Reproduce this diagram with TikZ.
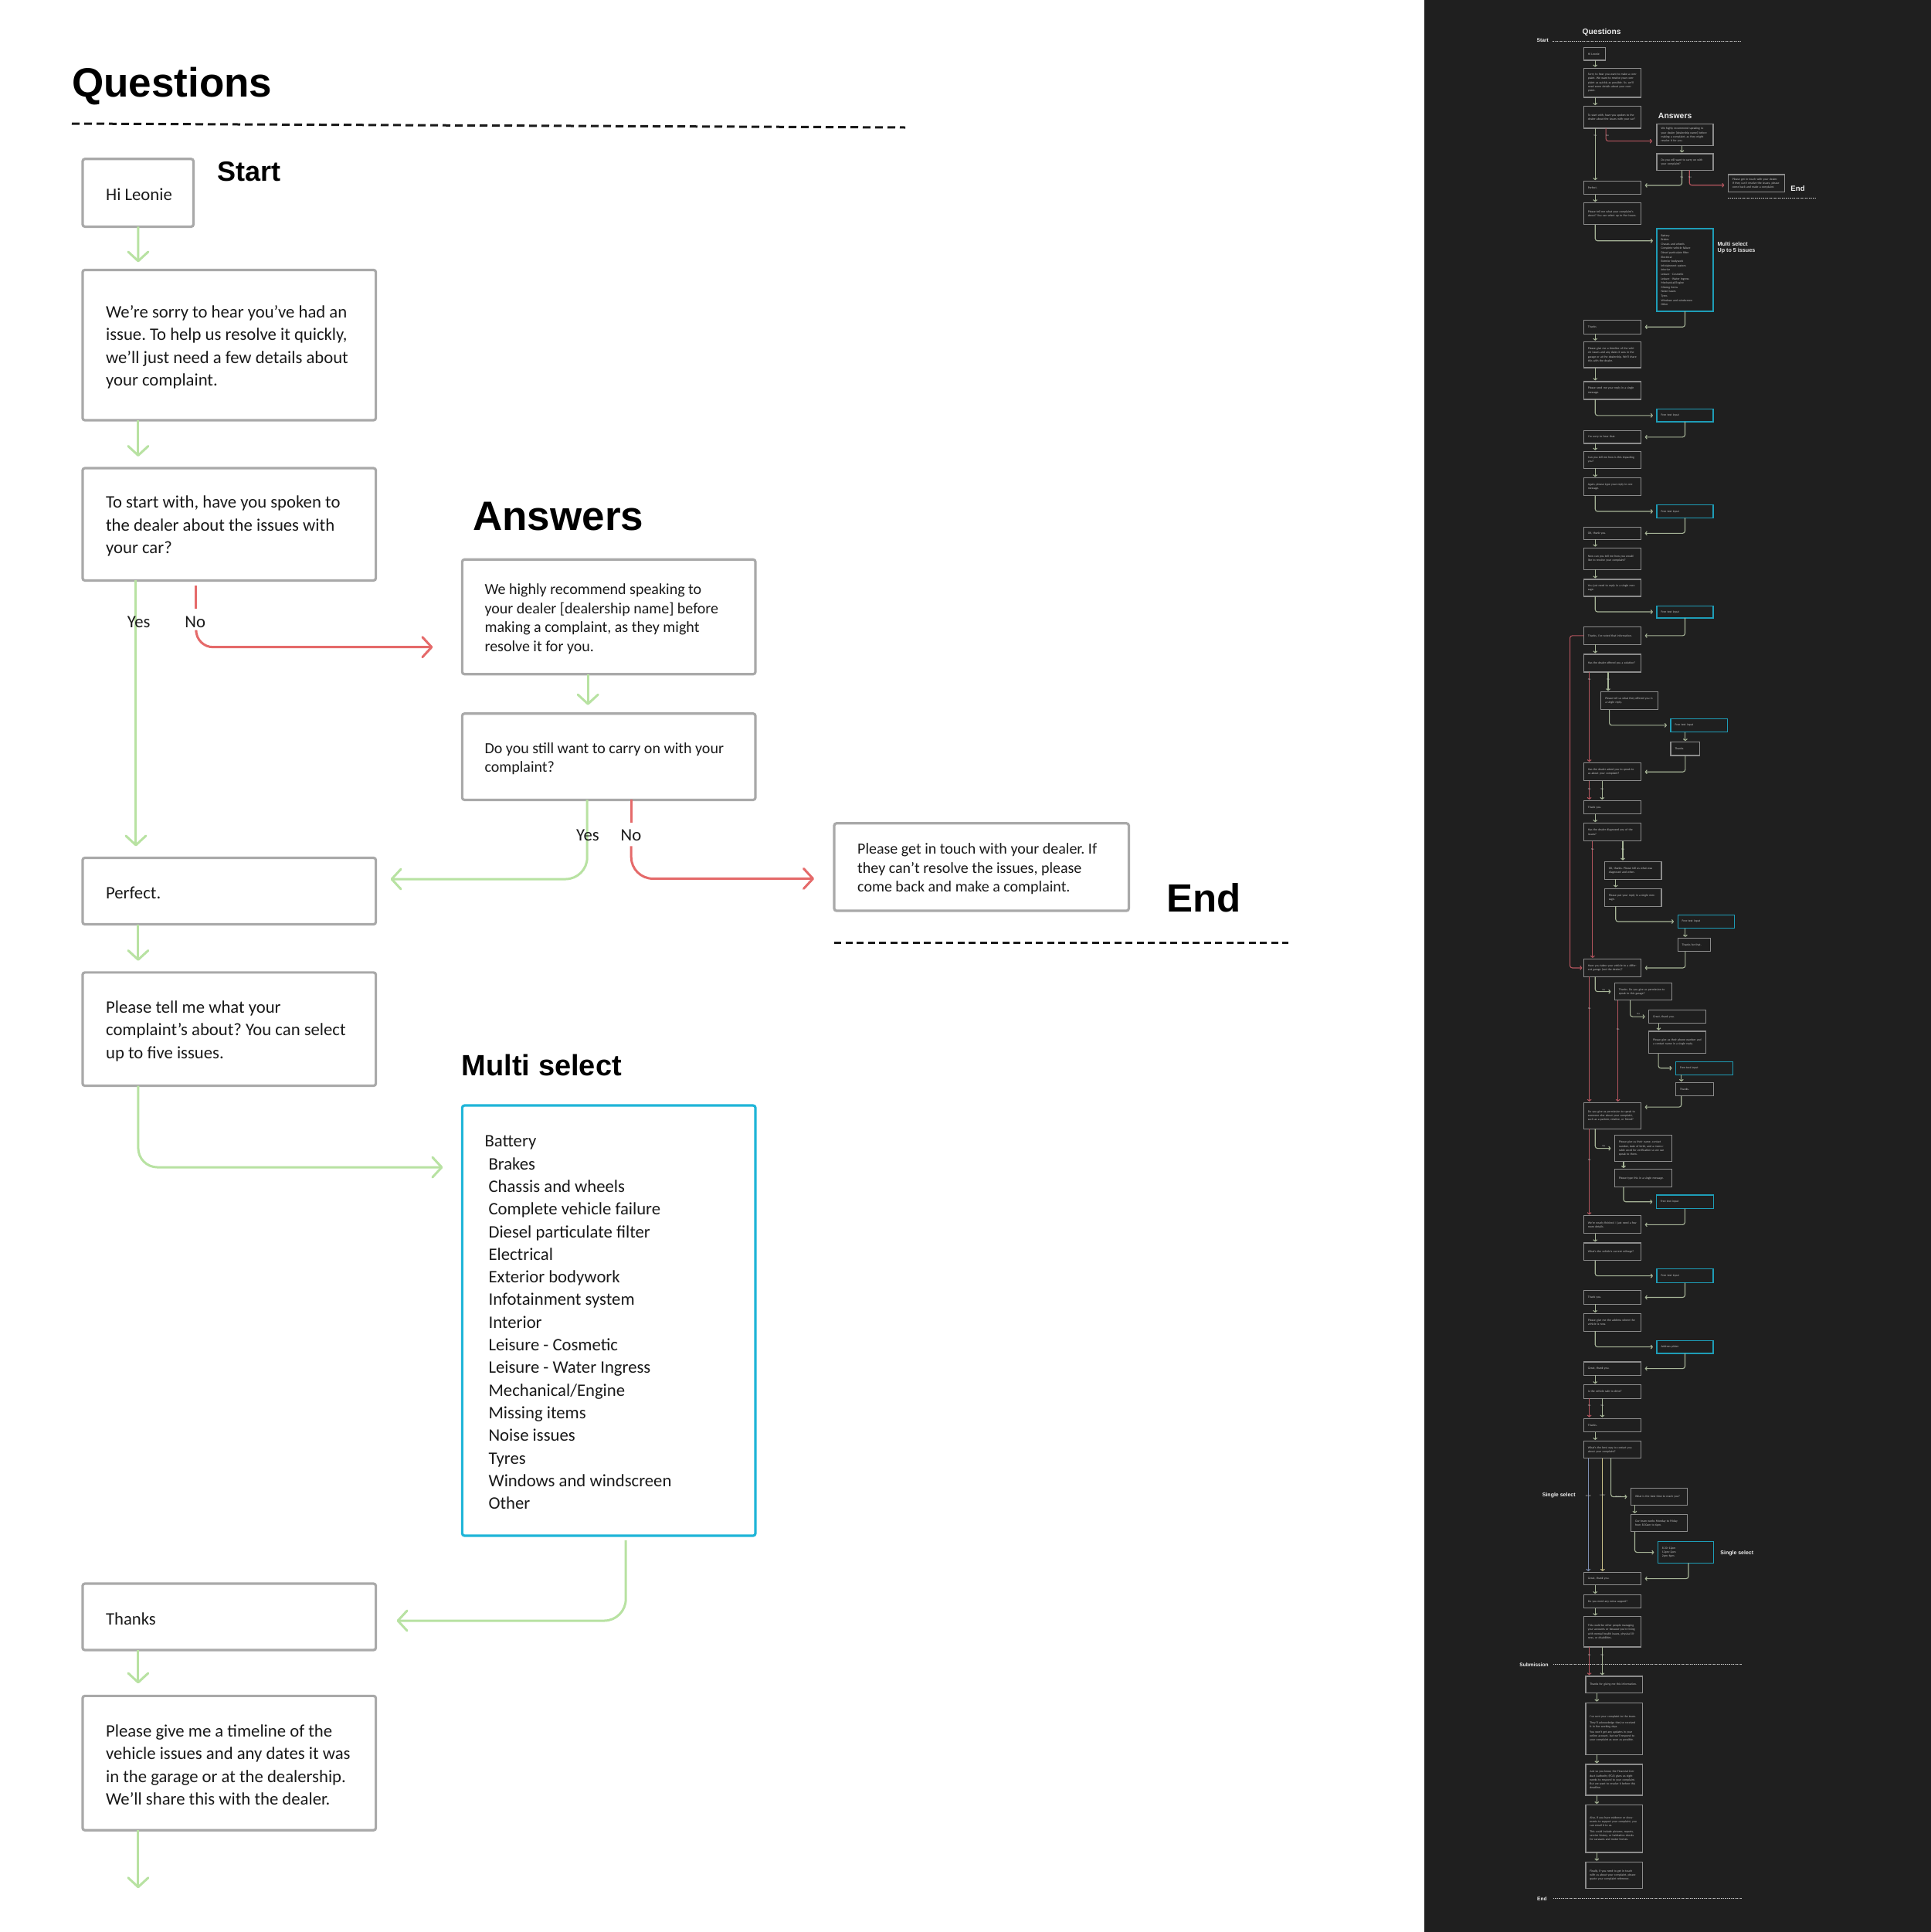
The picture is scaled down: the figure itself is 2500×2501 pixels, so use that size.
\documentclass[tikz,border=0pt]{standalone}
\usepackage{fontspec}
\setmainfont{Carlito}
\newfontfamily\headfont{Liberation Sans}
\usetikzlibrary{arrows.meta,calc,fit}
\frenchspacing
\definecolor{gbox}{HTML}{A9A9A9}
\definecolor{ggreen}{HTML}{B8E2A2}
\definecolor{gred}{HTML}{E56A6A}
\definecolor{gcyan}{HTML}{1FB5D8}
\definecolor{ink}{HTML}{1A1A1A}
\definecolor{panel}{HTML}{1F1F1F}
\definecolor{mmgray}{HTML}{8C8C8C}
\definecolor{mmcyan}{HTML}{1E9DB7}
\definecolor{mmgreen}{HTML}{A7B598}
\definecolor{mmred}{HTML}{B4555E}
\definecolor{mmblue}{HTML}{7D8FB3}
\definecolor{mmtan}{HTML}{C9C08A}
\definecolor{mmwhite}{HTML}{EDEDED}
\definecolor{mmtext}{HTML}{C4C4C4}
\newcommand\mmbx[7]{%
  \node[#6, fit={(#2,#3) (#4,#5)}] (#1) {};%
  \pgfmathsetmacro\mmw{(#4-#2)*1.5954-11}%
  \node[mmtxt, text width=\mmw pt] at (#1.center) {#7};%
}
\tikzset{
  qbox/.style={draw=gbox, line width=3.2pt, rounded corners=3pt, fill=white, inner sep=0pt, outer sep=0pt},
  cbox/.style={qbox, draw=gcyan},
  qtxt/.style={inner sep=0pt, anchor=west, align=left, text=ink, yshift=-2.5pt, font=\fontsize{22.7}{29.3}\selectfont},
  atxt/.style={qtxt, font=\fontsize{20}{24.5}\selectfont},
  lab/.style={inner sep=0pt, text=ink, font=\fontsize{22.7}{27}\selectfont},
  head/.style={inner sep=0pt, anchor=base west, text=black},
  garr/.style={draw=ggreen, line width=3pt, rounded corners=28pt, -{Straight Barb[length=12pt,width=26pt,round]}},
  rarr/.style={garr, draw=gred},
  rline/.style={draw=gred, line width=3pt},
  dline/.style={draw=ink, line width=3pt, dash pattern=on 10pt off 6pt},
  mmb/.style={draw=mmgray, line width=1.2pt, inner sep=0pt, outer sep=0pt},
  mmc/.style={mmb, draw=mmcyan},
  mmtxt/.style={inner sep=0pt, align=left, text=mmtext, font=\fontsize{3.8}{5.2}\selectfont},
  mma/.style={draw=mmgreen, line width=1.1pt, rounded corners=3pt, -{Straight Barb[length=2pt,width=5pt]}, shorten >=1.5pt},
  mme/.style={mma, shorten >=5pt},
  mmr/.style={mma, draw=mmred},
  mmre/.style={mme, draw=mmred},
  mmlab/.style={inner sep=0pt, text=mmtext, font=\fontsize{3}{3.5}\selectfont},
  mmhead/.style={inner sep=0pt, anchor=west, text=mmwhite, font=\headfont\bfseries\fontsize{7}{8.6}\selectfont, align=left},
  mmdash/.style={draw=mmtext, line width=0.8pt, dash pattern=on 1.5pt off 1pt},
}
\begin{document}
\begin{tikzpicture}[x=1pt,y=-1pt]
\useasboundingbox (0,0) rectangle (2500,2501);
\fill[white] (0,0) rectangle (1844,2501);
\fill[panel] (1844,0) rectangle (2500,2501);

% ---------- headings ----------
\node[head, font=\headfont\bfseries\fontsize{53}{60}\selectfont] (hq) at (93,125) {Questions};
\draw[dline] (93,160) -- (1172,165);
\node[head, font=\headfont\bfseries\fontsize{36}{40}\selectfont] (hs) at (281,234.7) {Start};
\node[head, font=\headfont\bfseries\fontsize{53}{60}\selectfont] (ha) at (612,686) {Answers};
\node[head, font=\headfont\bfseries\fontsize{51}{58}\selectfont] (he) at (1510,1180) {End};
\draw[dline, dash pattern=on 9pt off 5.5pt] (1080,1220) -- (1668,1220);
\node[head, font=\headfont\bfseries\fontsize{38}{44}\selectfont] (hm) at (597.7,1392) {Multi select};

% ---------- boxes ----------
\node[qbox, minimum width=143.5pt, minimum height=87.7pt] (hi) at (178.7,249.6) {};
\node[qtxt] at ($(hi.west)+(30,0)$) {Hi Leonie};

\node[qbox, minimum width=379.7pt, minimum height=194.6pt] (q2) at (296.75,446.7) {};
\node[qtxt] at ($(q2.west)+(30,0)$) {We’re sorry to hear you’ve had an\\issue. To help us resolve it quickly,\\we’ll just need a few details about\\your complaint.};

\node[qbox, minimum width=379.7pt, minimum height=145.4pt] (q3) at (296.75,678.7) {};
\node[qtxt] at ($(q3.west)+(30,0)$) {To start with, have you spoken to\\the dealer about the issues with\\your car?};

\node[qbox, minimum width=379.7pt, minimum height=86.1pt] (perf) at (296.75,1153.5) {};
\node[qtxt] at ($(perf.west)+(30,0)$) {Perfect.};

\node[qbox, minimum width=379.7pt, minimum height=146.7pt] (q5) at (296.75,1332.2) {};
\node[qtxt] at ($(q5.west)+(30,0)$) {Please tell me what your\\complaint’s about? You can select\\up to five issues.};

\node[qbox, minimum width=379.7pt, minimum height=86pt] (thx) at (296.75,2093) {};
\node[qtxt] at ($(thx.west)+(30,0)$) {Thanks};

\node[qbox, minimum width=379.7pt, minimum height=173.9pt] (tl) at (296.75,2282.3) {};
\node[qtxt] at ($(tl.west)+(30,0)$) {Please give me a timeline of the\\vehicle issues and any dates it was\\in the garage or at the dealership.\\We’ll share this with the dealer.};

\node[qbox, minimum width=379.7pt, minimum height=148.4pt] (a1) at (788.2,798.5) {};
\node[atxt] at ($(a1.west)+(29,0)$) {We highly recommend speaking to\\your dealer [dealership name] before\\making a complaint, as they might\\resolve it for you.};

\node[qbox, minimum width=379.7pt, minimum height=111.7pt] (a2) at (788.2,979.6) {};
\node[atxt] at ($(a2.west)+(29,0)$) {Do you still want to carry on with your\\complaint?};

\node[qbox, minimum width=381.4pt, minimum height=113.3pt] (endb) at (1270.7,1122.4) {};
\node[atxt] at ($(endb.west)+(30,0)$) {Please get in touch with your dealer. If\\they can’t resolve the issues, please\\come back and make a complaint.};

\node[cbox, minimum width=379.7pt, minimum height=556.9pt] (multi) at (788.2,1709.5) {};
\node[qtxt] at ($(multi.west)+(29,0)$) {Battery\\
\hspace*{5pt}Brakes\\
\hspace*{5pt}Chassis and wheels\\
\hspace*{5pt}Complete vehicle failure\\
\hspace*{5pt}Diesel particulate filter\\
\hspace*{5pt}Electrical\\
\hspace*{5pt}Exterior bodywork\\
\hspace*{5pt}Infotainment system\\
\hspace*{5pt}Interior\\
\hspace*{5pt}Leisure - Cosmetic\\
\hspace*{5pt}Leisure - Water Ingress\\
\hspace*{5pt}Mechanical/Engine\\
\hspace*{5pt}Missing items\\
\hspace*{5pt}Noise issues\\
\hspace*{5pt}Tyres\\
\hspace*{5pt}Windows and windscreen\\
\hspace*{5pt}Other};

% ---------- connectors ----------
\draw[garr, shorten >=10pt] ($(hi.south west)+(72,0)$) -- ($(q2.north west)+(72,0)$);
\draw[garr, shorten >=15pt] ($(q2.south west)+(72,0)$) -- ($(q3.north west)+(72,0)$);
\draw[garr, shorten >=15pt] ($(q3.south west)+(69,0)$) -- ($(perf.north west)+(69,0)$);
\node[lab] (y1) at (179.7,805) {Yes};
\draw[rline] ($(q3.south west)+(147,7)$) -- ++(0,30);
\node[lab] (n1) at (252.8,805) {No};
\draw[rarr, rounded corners=22pt] ($(q3.south west)+(147,67)$) |- ($(a1.south west)+(-38,-35)$);

\draw[garr, shorten >=11pt] ($(a1.south)+(-27,0)$) -- ($(a2.north)+(-27,0)$);
\draw[garr] ($(a2.south)+(-28,0)$) |- ($(perf.east)+(19,-15.5)$);
\node[lab] (y2) at (761,1081.7) {Yes};
\draw[rline] ($(a2.south)+(29,0)$) -- ++(0,30);
\node[lab] (n2) at (817,1081.7) {No};
\draw[rarr] ($(a2.south)+(29,60)$) |- ($(endb.west)+(-26,15)$);

\draw[garr, shorten >=15pt] ($(perf.south west)+(72,0)$) -- ($(q5.north west)+(72,0)$);
\draw[garr, rounded corners=25pt] ($(q5.south west)+(72,0)$) |- ($(multi.north west)+(-25,80)$);
\draw[garr] ($(multi.south)+(22,6)$) |- ($(thx.east)+(27,5)$);
\draw[garr, shorten >=16pt] ($(thx.south west)+(72,0)$) -- ($(tl.north west)+(72,0)$);
\coordinate (tlend) at ($(tl.south west)+(72,75)$);
\draw[garr] ($(tl.south west)+(72,0)$) -- (tlend);

% ---------- minimap ----------
\begin{scope}[x=1.5954pt, y=-1.5954pt]
\node[mmhead, font=\headfont\bfseries\fontsize{10.2}{12}\selectfont] (mq) at (1284,26.5) {Questions};
\node[mmhead, font=\headfont\bfseries\fontsize{6.7}{8}\selectfont] (ms) at (1247,32.4) {Start};
\draw[mmdash] (1260,33.4) -- (1413.4,33.4);
\node[mmhead, font=\headfont\bfseries\fontsize{10.4}{12}\selectfont] (mans) at (1345.6,93.7) {Answers};
\node[mmhead, font=\headfont\bfseries\fontsize{9.6}{11}\selectfont] (mend) at (1453.1,153.2) {End};
\draw[mmdash] (1402.4,160.5) -- (1474.4,160.5);
\node[mmhead, font=\headfont\bfseries\fontsize{7.2}{8.7}\selectfont] (mms) at (1393.6,201) {Multi select\\Up to 5 issues};
\node[mmhead] (ss1) at (1251.5,1213.5) {Single select};
\node[mmhead] (ss2) at (1396,1260.5) {Single select};
\node[mmhead, font=\headfont\bfseries\fontsize{6.6}{8}\selectfont] (msub) at (1233,1350.6) {Submission};
\draw[mmdash] (1260.2,1350.6) -- (1413.2,1350.6);
\node[mmhead, font=\headfont\bfseries\fontsize{6.6}{8}\selectfont] (mend2) at (1247.3,1541) {End};
\draw[mmdash] (1260.2,1540.2) -- (1413.2,1540.2);

\mmbx{m1}{1285.2}{38.7}{1303}{48.9}{mmb}{Hi Leonie}
\mmbx{m2}{1285.2}{55.3}{1331.7}{79}{mmb}{Sorry to hear you want to make a complaint. We want to resolve your complaint as quickly as possible. So, we’ll need some details about your complaint.}
\mmbx{m3}{1285.2}{86.3}{1331.7}{104}{mmb}{To start with, have you spoken to the dealer about the issues with your car?}
\mmbx{mA1}{1344.5}{100.7}{1390.2}{118.3}{mmb}{We highly recommend speaking to your dealer [dealership name] before making a complaint, as they might resolve it for you.}
\mmbx{mA2}{1344.5}{124.7}{1390.2}{138.1}{mmb}{Do you still want to carry on with your complaint?}
\mmbx{mE}{1402.4}{141.7}{1448}{155.7}{mmb}{Please get in touch with your dealer. If they can’t resolve the issues, please come back and make a complaint.}
\mmbx{m4}{1285.2}{147.1}{1331.7}{157.7}{mmb}{Perfect.}
\mmbx{m5}{1285.2}{164.7}{1331.7}{182.3}{mmb}{Please tell me what your complaint’s about? You can select up to five issues.}
\mmbx{mM}{1344.5}{185.5}{1390.2}{252.6}{mmc}{\fontsize{3.8}{5.6}\selectfont Battery\\ Brakes\\ Chassis and wheels\\ Complete vehicle failure\\ Diesel particulate filter\\ Electrical\\ Exterior bodywork\\ Infotainment system\\ Interior\\ Leisure - Cosmetic\\ Leisure - Water Ingress\\ Mechanical/Engine\\ Missing items\\ Noise issues\\ Tyres\\ Windows and windscreen\\ Other}
\mmbx{m6}{1285.2}{259.7}{1331.7}{270.9}{mmb}{Thanks}
\mmbx{m7}{1285.2}{277.3}{1331.7}{298.4}{mmb}{Please give me a timeline of the vehicle issues and any dates it was in the garage or at the dealership. We’ll share this with the dealer.}
\mmbx{m8}{1285.2}{309.6}{1331.7}{324}{mmb}{Please send me your reply in a single message.}
\mmbx{f1}{1344.5}{332}{1390.2}{342.2}{mmc}{Free text input}
\mmbx{m9}{1285.2}{349.5}{1331.7}{359.8}{mmb}{I’m sorry to hear that.}
\mmbx{m10}{1285.2}{366.2}{1331.7}{380}{mmb}{Can you tell me how is this impacting you?}
\mmbx{m11}{1285.2}{387.9}{1331.7}{402}{mmb}{Again, please type your reply in one message.}
\mmbx{f2}{1344.5}{409.7}{1390.2}{420.2}{mmc}{Free text input}
\mmbx{m12}{1285.2}{427.6}{1331.7}{437.8}{mmb}{OK, thank you.}
\mmbx{m13}{1285.2}{444.5}{1331.7}{462.1}{mmb}{Now can you tell me how you would like to resolve your complaint?}
\mmbx{m14}{1285.2}{470.1}{1331.7}{483.9}{mmb}{You just need to reply in a single message.}
\mmbx{f3}{1344.5}{491.5}{1390.2}{501.4}{mmc}{Free text input}
\mmbx{m15}{1285.2}{508.6}{1331.7}{523}{mmb}{Thanks, I’ve noted that information.}
\mmbx{m16}{1285.2}{530.9}{1331.7}{545.3}{mmb}{Has the dealer offered you a solution?}
\mmbx{mOff}{1299.2}{561.5}{1345.4}{575.9}{mmb}{Please tell us what they offered you in a single reply.}
\mmbx{fOff}{1355.8}{583.1}{1402}{593.9}{mmc}{Free text input}
\mmbx{tOff}{1355.8}{602.2}{1379.3}{613}{mmb}{Thanks.}
\mmbx{m17}{1285.2}{619.1}{1331.7}{633.5}{mmb}{Has the dealer asked you to speak to us about your complaint?}
\mmbx{m18}{1285.2}{649.7}{1331.7}{660.5}{mmb}{Thank you.}
\mmbx{m19}{1285.2}{668}{1331.7}{682.4}{mmb}{Has the dealer diagnosed any of the issues?}
\mmbx{mD1}{1302.1}{699}{1348.2}{713.4}{mmb}{OK, thanks. Please tell us what was diagnosed and when.}
\mmbx{mD2}{1302.1}{720.9}{1348.2}{735.3}{mmb}{Please put your reply in a single message.}
\mmbx{fD}{1361.5}{742.2}{1407.6}{753.3}{mmc}{Free text input}
\mmbx{tD}{1361.5}{761.2}{1388.2}{772}{mmb}{Thanks for that.}
\mmbx{m20}{1285.2}{778.2}{1331.7}{792.5}{mmb}{Have you taken your vehicle to a different garage (not the dealer)?}
\mmbx{mG}{1310.3}{797.6}{1356.5}{811.6}{mmb}{Thanks. Do you give us permission to speak to this garage?}
\mmbx{mGr}{1338}{819.5}{1384.2}{830.3}{mmb}{Great, thank you.}
\mmbx{mPh}{1338}{836.8}{1384.2}{854.8}{mmb}{Please give us their phone number and a contact name in a single reply.}
\mmbx{fPh}{1359.9}{861.3}{1406}{872.1}{mmc}{Free text input}
\mmbx{tPh}{1359.9}{878.5}{1390.5}{889.3}{mmb}{Thanks.}
\mmbx{m21}{1285.2}{894.7}{1331.7}{915.9}{mmb}{Do you give us permission to speak to someone else about your complaint, such as a partner, relative, or friend?}
\mmbx{mNm}{1310.3}{921}{1356.5}{942.6}{mmb}{Please give us their name, contact number, date of birth, and a memorable word for verification so we can speak to them.}
\mmbx{mTy}{1310.3}{948.7}{1356.5}{963.1}{mmb}{Please type this in a single message.}
\mmbx{fTy}{1344.1}{969.6}{1390.5}{980.7}{mmc}{Free text input}
\mmbx{m22}{1285.2}{986.5}{1331.7}{1000.9}{mmb}{We’re nearly finished. I just need a few more details.}
\mmbx{m23}{1285.2}{1008.5}{1331.7}{1022.8}{mmb}{What’s the vehicle’s current mileage?}
\mmbx{fMi}{1344.5}{1029.7}{1390.2}{1040.8}{mmc}{Free text input}
\mmbx{m24}{1285.2}{1047.3}{1331.7}{1058.1}{mmb}{Thank you.}
\mmbx{m25}{1285.2}{1065.9}{1331.7}{1080.1}{mmb}{Please give me the address where the vehicle is now.}
\mmbx{fAd}{1344.5}{1087.6}{1390.2}{1098.2}{mmc}{Address picker}
\mmbx{m26}{1285.2}{1105}{1331.7}{1115.9}{mmb}{Great, thank you.}
\mmbx{m27}{1285.2}{1123.7}{1331.7}{1134.6}{mmb}{Is the vehicle safe to drive?}
\mmbx{m28}{1285.2}{1150.9}{1331.7}{1161.8}{mmb}{Thanks.}
\mmbx{m29}{1285.2}{1169.3}{1331.7}{1183.2}{mmb}{What’s the best way to contact you about your complaint?}
\mmbx{mBt}{1323.5}{1207.7}{1369.1}{1221.3}{mmb}{What is the best time to reach you?}
\mmbx{mTm}{1323.5}{1228.8}{1369.1}{1242.8}{mmb}{Our team works Monday to Friday from 8.30am to 6pm.}
\mmbx{fTm}{1345.4}{1250.9}{1390.7}{1268.3}{mmc}{8.30–12pm\\12pm–2pm\\2pm–6pm}
\mmbx{m30}{1285.2}{1275.8}{1331.7}{1286}{mmb}{Great, thank you.}
\mmbx{m31}{1285.2}{1294.1}{1331.7}{1304.7}{mmb}{Do you need any extra support?}
\mmbx{m32}{1285.2}{1311.8}{1331.7}{1336.3}{mmb}{This could be other people managing your accounts or because you’re living with mental health issues, physical illness, or disabilities.}
\mmbx{m33}{1286.8}{1360.1}{1332.7}{1373.7}{mmb}{Thanks for giving me this information.}
\mmbx{m34}{1286.8}{1381.6}{1332.7}{1423.7}{mmb}{I’ve sent your complaint to the team.\\[2pt] They’ll acknowledge they’ve received it in five working days.\\[2pt] You won’t get any updates in your online account, but we’ll respond to your complaint as soon as possible.}
\mmbx{m35}{1286.8}{1431.6}{1332.7}{1456.7}{mmb}{Just so you know, the Financial Conduct Authority (FCA) gives us eight weeks to respond to your complaint. But we want to resolve it before this deadline.}
\mmbx{m36}{1286.8}{1464.6}{1332.7}{1503}{mmb}{Also, if you have evidence or documents to support your complaint, you can email it to us.\\[2pt] This could include pictures, reports, service history, or habitation checks for caravans and motor homes.}
\mmbx{m37}{1286.8}{1510.8}{1332.7}{1532.3}{mmb}{Finally, if you need to get in touch with us about your complaint, please quote your complaint reference.}

\coordinate (mx) at (1294.5,0);
\coordinate (mx2) at (1295.8,0);
\coordinate (mnx) at (1289.7,0);
\coordinate (myx) at (1300.2,0);
\foreach \a/\b in {m1/m2,m2/m3,m4/m5,m6/m7,m7/m8,m9/m10,m10/m11,m12/m13,m13/m14,m15/m16,m18/m19,m22/m23,m24/m25,m26/m27,m28/m29,m30/m31,m31/m32}
  \draw[mma] (\a.south -| mx) -- (\b.north -| mx);
\foreach \a/\b in {m33/m34,m34/m35,m35/m36,m36/m37}
  \draw[mma] (\a.south -| mx2) -- (\b.north -| mx2);
\foreach \a/\b in {m17/m18,m27/m28,m32/m33}{
  \draw[mmr] (\a.south -| mnx) -- (\b.north -| mnx);
  \draw[mma] (\a.south -| myx) -- (\b.north -| myx);}
\node[mmlab] (l17n) at (1289.7,640) {No};
\node[mmlab] (l17y) at (1300.2,640) {Yes};
\node[mmlab] (l27n) at (1289.7,1140.4) {No};
\node[mmlab] (l27y) at (1300.2,1140.4) {Yes};
\node[mmlab] (l32n) at (1289.7,1342.8) {No};
\node[mmlab] (l32y) at (1300.2,1342.8) {Yes};

% question 3
\draw[mma] (m3.south -| mx) -- (m4.north -| mx);
\node[mmlab] (l3y) at (1294.5,110) {Yes};
\coordinate (c3n) at (1303.2,0);
\draw[mmre, shorten >=6pt] (m3.south -| c3n) |- ($(mA1.west)+(0,5)$);
\node[mmlab] (l3n) at (1304.5,110) {No};
\draw[mma] ($(mA1.south)+(-2.5,0)$) -- ($(mA2.north)+(-2.5,0)$);
\draw[mme] ($(mA2.south)+(-2.5,0)$) |- ($(m4.east)+(0,-2)$);
\draw[mmre] ($(mA2.south)+(3.6,0)$) |- ($(mE.west)+(0,1.6)$);
\node[mmlab] (lay) at (1364.8,144) {Yes};
\node[mmlab] (lan) at (1371.5,144) {No};
% multi select
\draw[mme] (m5.south -| mx) |- ($(mM.north west)+(0,9.9)$);
\draw[mme] (mM.south) |- (m6.east);
% free text loops
\foreach \a/\b/\c in {m8/f1/m9,m11/f2/m12,m14/f3/m15,m23/fMi/m24,m25/fAd/m26}{
  \draw[mme] (\a.south -| mx) |- (\b.west);
  \draw[mme] (\b.south) |- (\c.east);}
% red loop
\draw[mmre, shorten >=2pt] (m15.west) -- ++(-11.2,0) |- (m20.west);
% q16
\draw[mmr] (m16.south -| mnx) -- (m17.north -| mnx);
\node[mmlab] (l16n) at (1289.7,551) {No};
\coordinate (c16y) at (1305,0);
\draw[mma] (m16.south -| c16y) -- (mOff.north -| c16y);
\node[mmlab] (l16y) at (1305,551) {Yes};
\coordinate (cOff) at (1306,0);
\draw[mme] (mOff.south -| cOff) |- (fOff.west);
\coordinate (cft) at (1367.6,0);
\draw[mma] (fOff.south -| cft) -- (tOff.north -| cft);
\draw[mme] (tOff.south) |- (m17.east);
% q19
\coordinate (c19n) at (1292.4,0);
\coordinate (c19y) at (1316.9,0);
\draw[mmr] (m19.south -| c19n) -- (m20.north -| c19n);
\draw[mma] (m19.south -| c19y) -- (mD1.north -| c19y);
\node[mmlab] (l19n) at (1292.4,688.9) {No};
\node[mmlab] (l19y) at (1316.9,688.9) {Yes};
\coordinate (cD) at (1311.1,0);
\draw[mma] (mD1.south -| cD) -- (mD2.north -| cD);
\draw[mme] (mD2.south -| cD) |- (fD.west);
\draw[mma] (fD.south -| cft) -- (tD.north -| cft);
\draw[mme] (tD.south -| cft) |- (m20.east);
% q20
\draw[mme] (m20.south -| mx) |- (mG.west);
\node[mmlab] (l20y) at (1301.5,803.5) {Yes};
\draw[mmr] (m20.south -| mnx) -- (m21.north -| mnx);
\node[mmlab] (l20n) at (1289.7,818) {No};
\coordinate (cGn) at (1312.9,0);
\coordinate (cGy) at (1322.9,0);
\draw[mmr] (mG.south -| cGn) -- (m21.north -| cGn);
\node[mmlab] (lGn) at (1312.9,835.4) {No};
\draw[mme] (mG.south -| cGy) |- (mGr.west);
\node[mmlab] (lGy) at (1329.5,823) {Yes};
\coordinate (cGr) at (1346,0);
\draw[mma] (mGr.south -| cGr) -- (mPh.north -| cGr);
\coordinate (cPh) at (1345.8,0);
\draw[mme] (mPh.south -| cPh) |- (fPh.west);
\coordinate (cfp) at (1364.4,0);
\draw[mma] (fPh.south -| cfp) -- (tPh.north -| cfp);
\draw[mme] (tPh.south -| cfp) |- ($(m21.east)+(0,-7)$);
% q21
\draw[mme] (m21.south -| mx) |- (mNm.west);
\node[mmlab] (l21y) at (1301.5,930) {Yes};
\draw[mmr] (m21.south -| mnx) -- (m22.north -| mnx);
\node[mmlab] (l21n) at (1289.7,941.2) {No};
\coordinate (cNm) at (1317.5,0);
\draw[mma] (mNm.south -| cNm) -- (mTy.north -| cNm);
\draw[mme] (mTy.south -| cNm) |- (fTy.west);
\draw[mme] (fTy.south) |- (m22.east);
% q29
\coordinate (cEm) at (1288.9,0);
\coordinate (cLe) at (1300.5,0);
\coordinate (cPn) at (1307.3,0);
\draw[mma, draw=mmblue] (m29.south -| cEm) -- (m30.north -| cEm);
\draw[mma, draw=mmtan] (m29.south -| cLe) -- (m30.north -| cLe);
\draw[mme] (m29.south -| cPn) |- (mBt.west);
\node[mmlab] (lem) at (1288.9,1213.5) {Email};
\node[mmlab] (lle) at (1300.5,1213.5) {Letter};
\node[mmlab] (lph) at (1313.5,1214.5) {Phone};
\coordinate (cBt) at (1326.6,0);
\draw[mma] (mBt.south -| cBt) -- (mTm.north -| cBt);
\draw[mme] (mTm.south -| cBt) |- (fTm.west);
\coordinate (cfT) at (1370.2,0);
\draw[mme] (fTm.south -| cfT) |- (m30.east);
\end{scope}
\end{tikzpicture}
\end{document}
